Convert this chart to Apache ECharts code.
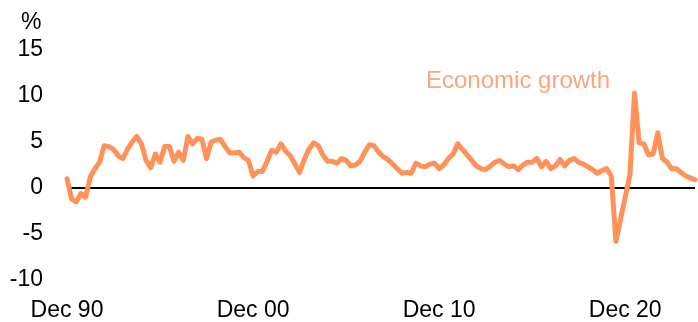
<!DOCTYPE html>
<html>
<head>
<meta charset="utf-8">
<script src="https://cdn.jsdelivr.net/npm/echarts@6/dist/echarts.min.js"></script>
<style>
html,body{margin:0;padding:0;background:#fff;}
#chart{width:698px;height:322px;}
</style>
</head>
<body>
<div id="chart"></div>
<script>
// Quarterly, Dec 1990 to Sep 2024 — year-ended economic growth (%)
const startYear = 1990;
const tickLabels = ['Dec 90', 'Dec 00', 'Dec 10', 'Dec 20'];
const growth = [
  1.0, -1.2, -1.5, -0.6, -1.0, 1.2, 2.1, 2.8, 4.6, 4.5,
  4.2, 3.5, 3.2, 4.2, 5.0, 5.6, 4.8, 3.0, 2.2, 3.7,
  2.8, 4.5, 4.5, 2.9, 3.9, 3.0, 5.6, 4.8, 5.4, 5.3,
  3.2, 5.0, 5.2, 5.3, 4.5, 3.8, 3.8, 3.9, 3.3, 3.0,
  1.3, 1.8, 1.8, 2.9, 4.1, 3.9, 4.8, 4.0, 3.5, 2.6,
  1.7, 3.1, 4.2, 4.9, 4.6, 3.6, 2.9, 2.9, 2.7, 3.2,
  3.0, 2.4, 2.5, 2.9, 3.9, 4.7, 4.6, 3.9, 3.4, 3.1,
  2.6, 2.1, 1.6, 1.7, 1.6, 2.7, 2.4, 2.3, 2.6, 2.7,
  2.1, 2.5, 3.2, 3.7, 4.8, 4.2, 3.6, 3.0, 2.4, 2.1,
  2.0, 2.4, 2.8, 3.0, 2.6, 2.3, 2.4, 2.0, 2.5, 2.8,
  2.8, 3.2, 2.3, 2.9, 2.1, 2.4, 3.1, 2.4, 3.0, 3.2,
  2.8, 2.6, 2.3, 2.0, 1.6, 1.9, 2.1, 1.3, -5.8, -3.4,
  -1.0, 1.4, 10.3, 4.9, 4.8, 3.6, 3.7, 6.0, 3.2, 2.8,
  2.1, 2.1, 1.7, 1.3, 1.1, 0.9
];
const seriesName = 'Economic growth';
const yTicks = [-10, -5, 0, 5, 10, 15];

const months = ['Dec', 'Mar', 'Jun', 'Sep'];
const categories = growth.map((_, i) => {
  const m = months[i % 4];
  const y = startYear + Math.ceil(i / 4);
  return m + ' ' + String(y % 100).padStart(2, '0');
});

const chart = echarts.init(document.getElementById('chart'), null, {renderer: 'canvas'});
const FONT = 'Liberation Sans, Arial, sans-serif';
chart.setOption({
  animation: false,
  backgroundColor: '#ffffff',
  grid: {left: 67, right: 3, top: 50, bottom: 42},
  xAxis: {
    type: 'category',
    data: categories,
    boundaryGap: false,
    axisLine: {show: false},
    axisTick: {show: false},
    splitLine: {show: false},
    axisLabel: {
      interval: 0,
      formatter: v => tickLabels.includes(v) ? v : '',
      fontSize: 23,
      fontFamily: FONT,
      color: '#000',
      margin: 19
    }
  },
  yAxis: {
    type: 'value',
    min: yTicks[0],
    max: yTicks[yTicks.length - 1],
    interval: 5,
    axisLine: {show: false},
    axisTick: {show: false},
    splitLine: {show: false},
    axisLabel: {fontSize: 23, fontFamily: FONT, color: '#000', margin: 24}
  },
  graphic: [
    {type: 'text', left: 21, top: 11, style: {text: '%', fontSize: 23, fontFamily: FONT, fill: '#000'}},
    {type: 'text', left: 426, top: 69, style: {text: seriesName, fontSize: 24, fontFamily: FONT, fill: '#FCA67E'}}
  ],
  series: [{
    name: seriesName,
    type: 'line',
    data: growth,
    symbol: 'none',
    lineStyle: {color: '#FF9159', width: 5, join: 'round', cap: 'round'},
    z: 3,
    markLine: {
      silent: true,
      symbol: 'none',
      label: {show: false},
      lineStyle: {color: '#000', width: 2, type: 'solid'},
      data: [{yAxis: 0}],
      z: 2
    }
  }]
});
</script>
</body>
</html>
